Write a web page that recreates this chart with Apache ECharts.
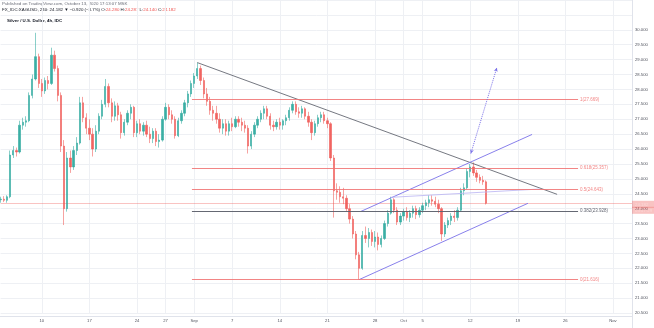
<!DOCTYPE html>
<html>
<head>
<meta charset="utf-8">
<script src="https://cdn.jsdelivr.net/npm/echarts@6/dist/echarts.min.js"></script>
<style>
  html, body { margin: 0; padding: 0; background: #ffffff; }
  #chart { width: 654px; height: 328px; }
</style>
</head>
<body>
<div id="chart"></div>
<script>
// XAG/USD bars, three per session day: [open, high, low, close]
const augBars = [
  [24.30,24.40,24.20,24.32],[24.32,24.42,24.22,24.28],[24.28,24.45,24.20,24.40],[24.40,25.95,24.35,25.80],
  [25.80,26.10,25.70,25.95],[25.95,26.05,25.75,25.90],[25.90,26.95,25.85,26.80],[26.80,27.05,26.65,26.90],
  [26.90,27.10,26.75,26.95],[26.95,27.90,26.90,27.80],[27.80,28.50,27.70,28.35],[28.35,29.90,28.30,29.10],
  [29.10,29.20,28.05,28.20],[28.20,28.35,27.75,27.95],[27.95,28.40,27.85,28.30],[28.30,28.45,28.00,28.20],
  [28.20,29.40,28.15,29.15],[29.15,29.30,28.60,28.70],[28.70,28.80,27.60,27.80],[27.80,27.90,25.90,26.10],
  [26.10,26.30,23.45,24.00],[24.00,25.90,23.90,25.70],[25.70,25.95,25.20,25.40],[25.40,26.10,25.30,25.95],
  [25.95,26.40,25.80,26.20],[26.20,27.75,26.15,27.55],[27.55,27.75,26.90,27.05],[27.05,27.20,26.50,26.70],
  [26.70,27.00,26.30,26.50],[26.50,26.70,25.75,26.00],[26.00,26.80,25.90,26.60],[26.60,27.20,26.50,27.10],
  [27.10,27.65,27.00,27.50],[27.50,28.35,27.40,28.10],[28.10,28.20,27.40,27.55],[27.55,27.70,26.90,27.10],
  [27.10,27.60,26.95,27.45],[27.45,27.55,26.95,27.15],[27.15,27.25,26.35,26.55],[26.55,27.00,26.45,26.90],
  [26.90,27.30,26.80,27.20],[27.20,27.50,27.00,27.40],[27.40,27.45,26.40,26.55],[26.55,26.95,26.40,26.85],
  [26.85,27.00,26.50,26.60],[26.60,26.90,26.45,26.80],[26.80,26.95,26.40,26.50],[26.50,26.75,26.20,26.35],
  [26.35,26.70,26.20,26.60],[26.60,26.70,26.10,26.25],[26.25,26.50,26.05,26.30],[26.30,27.10,26.25,27.00],
  [27.00,27.55,26.95,27.40],[27.40,27.50,27.00,27.15],[27.15,27.30,26.85,27.00],[27.00,27.10,26.35,26.45],
  [26.45,27.05,26.40,26.95],[26.95,27.30,26.85,27.20],[27.20,27.65,27.10,27.55],[27.55,27.95,27.40,27.85],
  [27.85,28.30,27.75,28.20]
];
const sepBars = [
  [28.20,28.55,28.05,28.45],[28.45,28.90,28.35,28.70],[28.70,28.80,28.15,28.30],[28.30,28.40,27.70,27.85],
  [27.85,28.05,27.45,27.60],[27.60,27.75,27.15,27.30],[27.30,27.45,26.95,27.20],[27.20,27.45,26.85,27.00],
  [27.00,27.20,26.55,26.70],[26.70,27.00,26.50,26.85],[26.85,27.00,26.45,26.60],[26.60,26.95,26.45,26.85],
  [26.85,27.05,26.60,26.75],[26.75,27.10,26.70,27.00],[27.00,27.10,26.75,26.90],[26.90,27.05,26.60,26.80],
  [26.80,26.95,26.55,26.70],[26.70,26.80,25.85,26.10],[26.10,26.60,26.00,26.50],[26.50,26.90,26.40,26.80],
  [26.80,27.10,26.70,27.00],[27.00,27.30,26.90,27.20],[27.20,27.45,27.00,27.35],[27.35,27.45,27.00,27.10],
  [27.10,27.20,26.65,26.80],[26.80,26.95,26.60,26.75],[26.75,27.00,26.65,26.90],[26.90,27.05,26.65,26.80],
  [26.80,27.00,26.65,26.95],[26.95,27.15,26.80,27.05],[27.05,27.40,26.95,27.30],[27.30,27.60,27.20,27.50],
  [27.50,27.60,27.15,27.25],[27.25,27.40,27.05,27.20],[27.20,27.45,27.05,27.35],[27.35,27.40,27.00,27.10],
  [27.10,27.25,26.75,26.90],[26.90,27.00,26.30,26.55],[26.55,26.95,26.45,26.85],[26.85,27.15,26.75,27.05],
  [27.05,27.25,26.90,27.15],[27.15,27.25,26.85,26.95],[26.95,27.05,26.70,26.85],[26.85,26.90,25.60,25.70],
  [25.70,25.80,23.70,24.60],[24.60,24.85,24.30,24.55],[24.55,24.75,24.20,24.40],[24.40,24.70,24.15,24.35],
  [24.35,24.45,23.90,24.00],[24.00,24.15,23.50,23.65],[23.65,23.75,23.00,23.15],[23.15,23.25,22.30,22.45],
  [22.45,22.55,21.62,22.00],[22.00,23.25,21.95,23.10],[23.10,23.40,22.85,23.00],[23.00,23.35,22.70,23.20],
  [23.20,23.30,22.75,22.90],[22.90,23.25,22.70,23.05],[23.05,23.20,22.60,22.80],[22.80,23.10,22.70,23.00],
  [23.00,23.60,22.95,23.50],[23.50,23.95,23.40,23.85],[23.85,24.40,23.80,24.30],[24.30,24.35,23.85,23.95],
  [23.95,24.05,23.45,23.55],[23.55,23.85,23.45,23.75]
];
const octBars = [
  [23.75,24.00,23.60,23.90],[23.90,24.05,23.60,23.70],[23.70,23.95,23.55,23.85],[23.85,24.10,23.70,24.00],
  [24.00,24.10,23.65,23.80],[23.80,24.05,23.70,23.95],[23.95,24.20,23.85,24.10],[24.10,24.30,23.95,24.20],
  [24.20,24.45,24.05,24.30],[24.30,24.45,24.10,24.25],[24.25,24.40,24.05,24.15],[24.15,24.30,23.85,24.00],
  [24.00,24.05,22.92,23.15],[23.15,23.55,23.05,23.45],[23.45,23.70,23.35,23.60],[23.60,23.85,23.45,23.75],
  [23.75,23.95,23.55,23.70],[23.70,24.05,23.60,23.95],[23.95,24.70,23.90,24.60],[24.60,24.85,24.45,24.70],
  [24.70,25.35,24.65,25.25],[25.25,25.50,25.05,25.40],[25.40,25.55,25.10,25.20],[25.20,25.30,24.90,25.05],
  [25.05,25.15,24.85,24.95],[24.95,25.10,24.80,24.90],[24.90,24.95,24.14,24.182]
];

// time axis: slot count (including empty space on the right) and labelled slots
const slotCount = 200;
const xTicks = [
  [13, '10'], [28, '17'], [43, '24'], [52, '27'], [61, 'Sep'], [73, '7'], [88, '14'],
  [103, '21'], [118, '28'], [127, 'Oct'], [133, '5'], [148, '12'], [163, '19'], [178, '26'], [193, 'Nov']
];

// price axis
const priceMin = 20.5;
const priceMax = 31;
const priceStep = 0.5;
const priceLabelTop = 30;

// Fibonacci retracement
const fibLevels = [1, 0.618, 0.5, 0.382, 0];
const fibPrices = [27.669, 25.357, 24.643, 23.928, 21.616];
const fibSpan = [60.3, 182.0];

// drawing tools: [slot, price]
const downTrend = [[62, 28.90], [175.4, 24.48]];
const channelLow = [[113, 21.62], [166.2, 24.18]];
const channelHigh = [[113.6, 23.91], [167.5, 26.49]];
const swingLink = [[123, 24.38], [170, 24.66]];
const projection = [[148.2, 25.85], [156.4, 28.73]];

const countdown = '03:47:29';

// ---------------------------------------------------------------
const bars = augBars.concat(sepBars, octBars);
const lastClose = bars[bars.length - 1][3];
const categories = [];
for (let i = 0; i < slotCount; i++) categories.push(String(i));
const tickMap = new Map(xTicks);
const candleData = bars.map(b => [b[0], b[3], b[2], b[1]]);

const UP = '#26a69a', DOWN = '#ef5350';
const FIB_RED = '#f07070', FIB_GREY = '#5d606b';
const TOOL_BLUE = '#7b72e9';
const FONT = '"Liberation Sans", Arial, sans-serif';

const fibMarks = fibLevels.map((lv, k) => {
  const col = lv === 0.382 ? FIB_GREY : FIB_RED;
  return [
    { coord: [fibSpan[0], fibPrices[k]],
      lineStyle: { color: col, width: 1, type: 'solid', opacity: lv === 0.382 ? 0.95 : 0.85 },
      label: { show: true, position: 'end', distance: 2, color: col, fontSize: 4.5, fontFamily: FONT,
               formatter: lv + '(' + fibPrices[k].toFixed(3) + ')' } },
    { coord: [fibSpan[1], fibPrices[k]] }
  ];
});

function toolLine(name, pts, color, width, opacity) {
  return {
    name, type: 'line', xAxisIndex: 1, yAxisIndex: 0, data: pts,
    symbol: 'none', silent: true, z: 4,
    lineStyle: { color, width, opacity }
  };
}

const boxText = {
  backgroundColor: DOWN, color: '#ffffff', fontSize: 4.4, fontFamily: FONT,
  width: 17, height: 6, lineHeight: 6, padding: [0.5, 2, 0.5, 3], align: 'left'
};

const chart = echarts.init(document.getElementById('chart'), null, { renderer: 'canvas' });

chart.setOption({
  animation: false,
  backgroundColor: '#ffffff',
  grid: { left: 0.6, right: 22, top: -1, bottom: 15, containLabel: false },
  xAxis: [
    {
      type: 'category', data: categories, boundaryGap: false,
      axisLine: { show: false }, axisTick: { show: false },
      axisLabel: {
        interval: (i) => tickMap.has(i), formatter: (v, i) => tickMap.get(i) || '',
        fontSize: 4.2, color: '#50535e', margin: 6, fontFamily: FONT
      },
      splitLine: { show: true, interval: (i) => tickMap.has(i), lineStyle: { color: '#eef0f4', width: 1 } }
    },
    { type: 'value', min: 0, max: slotCount - 1, show: false }
  ],
  yAxis: {
    type: 'value', position: 'right', min: priceMin, max: priceMax, interval: priceStep,
    axisLine: { show: false }, axisTick: { show: false },
    axisLabel: {
      fontSize: 4.2, color: '#50535e', margin: 3, fontFamily: FONT,
      formatter: (v) => (v > priceLabelTop ? '' : v.toFixed(3))
    },
    splitLine: { show: true, lineStyle: { color: '#eef0f4', width: 1 } }
  },
  series: [
    {
      name: 'XAGUSD', type: 'candlestick', xAxisIndex: 0, yAxisIndex: 0, data: candleData,
      barWidth: 1.8, z: 3,
      itemStyle: { color: UP, color0: DOWN, borderColor: UP, borderColor0: DOWN, borderWidth: 0.6, opacity: 0.9 },
      markLine: {
        silent: true, symbol: 'none', z: 2,
        lineStyle: { color: DOWN, width: 1, type: 'solid', opacity: 0.35 },
        label: {
          show: true, position: 'end', distance: 0, offset: [0, 4],
          formatter: '{p|' + lastClose.toFixed(3) + '}\n{t|' + countdown + '}',
          rich: { p: boxText, t: boxText }
        },
        data: [{ yAxis: lastClose }]
      }
    },
    {
      name: 'Fib', type: 'line', xAxisIndex: 1, yAxisIndex: 0, data: [], z: 2, silent: true,
      markLine: { silent: true, symbol: 'none', data: fibMarks }
    },
    toolLine('Trend', downTrend, '#5d606b', 1, 0.85),
    toolLine('Channel low', channelLow, TOOL_BLUE, 1, 0.9),
    toolLine('Channel high', channelHigh, TOOL_BLUE, 1, 0.9),
    toolLine('Swing', swingLink, '#b9b3f2', 1, 0.8),
    {
      name: 'Projection', type: 'line', xAxisIndex: 1, yAxisIndex: 0, data: [], silent: true, z: 4,
      markLine: {
        silent: true, symbol: ['arrow', 'arrow'], symbolSize: [3, 4],
        lineStyle: { color: TOOL_BLUE, width: 1, type: 'dotted' },
        label: { show: false },
        data: [[{ coord: projection[0] }, { coord: projection[1] }]]
      }
    }
  ],
  graphic: [
    { type: 'line', silent: true, shape: { x1: 0, y1: 316.5, x2: 632, y2: 316.5 },
      style: { stroke: '#e0e3eb', lineWidth: 1 } },
    { type: 'line', silent: true, shape: { x1: 632.5, y1: 0, x2: 632.5, y2: 328 },
      style: { stroke: '#e0e3eb', lineWidth: 1 } },
    { type: 'text', left: 2, top: 1.5, silent: true,
      style: { text: 'Published on TradingView.com, October 13, 2020 17:13:07 MSK',
               fontSize: 4.4, fill: '#6a6d78', fontFamily: FONT } },
    { type: 'text', left: 2, top: 8, silent: true,
      style: {
        text: '{k|FX_IDC:XAGUSD, 240: 24.182 \u25BC \u22120.920 (\u22123.7%) O:}{r|24.280} {k|H:}{r|24.287} {k|L:}{r|24.140} {k|C:}{r|24.182}',
        fontSize: 4.4, fontFamily: FONT,
        rich: {
          k: { fill: '#131722', fontSize: 4.4, fontFamily: FONT },
          r: { fill: '#ef5350', fontSize: 4.4, fontFamily: FONT }
        }
      } },
    { type: 'text', left: 7, top: 18.5, silent: true,
      style: { text: 'Silver / U.S. Dollar, 4h, IDC', fontSize: 4.4, fontWeight: 'bold',
               fill: '#131722', fontFamily: FONT } }
  ]
});
</script>
</body>
</html>
